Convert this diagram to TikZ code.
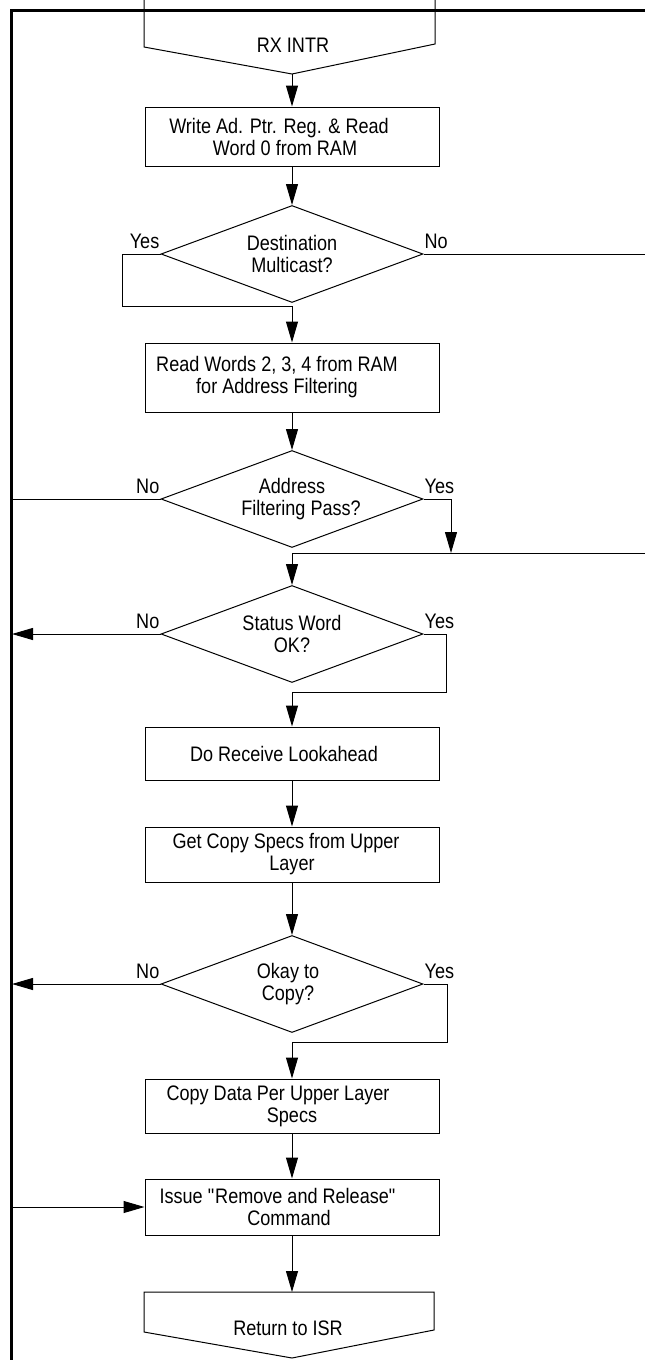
\documentclass[tikz,border=0pt]{standalone}
\usepackage{fontspec}
\setmainfont{Liberation Sans}[FakeStretch=0.86]
\usetikzlibrary{shapes.geometric,arrows.meta}

\tikzset{
  line/.style={draw, line width=1pt},
  arr/.style={line, -{Triangle[length=21pt,width=12pt]}},
  frame/.style={draw, line width=3pt},
  txt/.style={font=\fontsize{21}{22}\selectfont, align=center, inner sep=0pt},
  flowbox/.style={txt, draw, line width=1pt, rectangle, minimum width=294pt},
  decision/.style={txt, draw, line width=1pt, diamond, aspect=2.7,
    minimum width=262pt, minimum height=97pt},
  lbl/.style={font=\fontsize{21}{22}\selectfont, inner sep=1pt, yshift=4pt}
}

\begin{document}
\begin{tikzpicture}[x=1pt,y=-1pt]
\useasboundingbox (0,0) rectangle (645,1360);

% Frame
\draw[frame] (645,10) -- (11,10) -- (11,1360);

% Entry
\draw[line] (144,0) -- (144,47) -- (292,74) -- (435,44) -- (435,0);
\node[txt] (rx) at (293,45) {RX INTR};
\coordinate (rxtip) at (292,74);

% Steps
\node[flowbox, minimum height=59pt] (wrptr) at (292,136.5) {Write Ad. Ptr. Reg. \& Read\hspace*{26pt}\\Word 0 from RAM\hspace*{14pt}};
\node[decision] (mcast) at (292,254) {Destination\\Multicast?};
\node[flowbox, minimum height=69pt] (rdwords) at (292,377.5) {Read Words 2, 3, 4 from RAM\hspace*{30pt}\\for Address Filtering\hspace*{30pt}};
\node[decision] (filter) at (292,499) {Address\\\hspace*{18pt}Filtering Pass?};
\node[decision] (status) at (292,634) {Status Word\\OK?};
\node[flowbox, minimum height=53pt] (lookahead) at (292,753.5) {\raisebox{-4pt}{Do Receive Lookahead\hspace*{16pt}}};
\node[flowbox, minimum height=55pt] (specs) at (292,854.5) {Get Copy Specs from Upper\hspace*{12pt}\\Layer};
\node[decision] (okcopy) at (292,984) {Okay to\hspace*{8pt}\\Copy?\hspace*{8pt}};
\node[flowbox, minimum height=54pt] (copydata) at (292,1106) {Copy Data Per Upper Layer\hspace*{28pt}\\Specs};
\node[flowbox, minimum height=56pt] (release) at (292,1207) {Issue \textquotedbl Remove and Release\textquotedbl\hspace*{28pt}\\Command\hspace*{6pt}};

% Exit
\draw[line] (144,1292) -- (144,1332) -- (292,1358) -- (434,1330) -- (434,1292) -- cycle;
\node[txt] (isr) at (288,1328) {Return to ISR};
\coordinate (isrtop) at (292,1292);

% Bends and edges
\coordinate (mcyes) at (122,306);
\coordinate (mcno) at (645,254);
\coordinate (busfilt) at (11,499);
\coordinate (fyes) at (451,553);
\coordinate (join) at (645,553);
\coordinate (busst) at (12,634);
\coordinate (styes) at (446,692);
\coordinate (busok) at (12,984);
\coordinate (okyes) at (447,1042);
\coordinate (busrel) at (12,1207);

% Connectors
\draw[arr] (rxtip) -- (wrptr.north);
\draw[arr] (wrptr.south) -- (mcast.north);
\draw[arr] (mcast.west) -| (mcyes) -| (rdwords.north);
\draw[line] (mcast.east) -- (mcno);
\draw[arr] (rdwords.south) -- (filter.north);
\draw[line] (filter.west) -- (busfilt);
\draw[arr] (filter.east) -| (fyes);
\draw[arr] (join) -| (status.north);
\draw[arr] (status.west) -- (busst);
\draw[arr] (status.east) -| (styes) -| (lookahead.north);
\draw[arr] (lookahead.south) -- (specs.north);
\draw[arr] (specs.south) -- (okcopy.north);
\draw[arr] (okcopy.west) -- (busok);
\draw[arr] (okcopy.east) -| (okyes) -| (copydata.north);
\draw[arr] (copydata.south) -- (release.north);
\draw[arr] (busrel) -- (release.west);
\draw[arr] (release.south) -- (isrtop);

% Labels
\node[lbl, anchor=south east] (mcyeslbl) at (mcast.west) {Yes};
\node[lbl, anchor=south west] (mcnolbl) at (mcast.east) {No};
\node[lbl, anchor=south east] (fnolbl) at (filter.west) {No};
\node[lbl, anchor=south west] (fyeslbl) at (filter.east) {Yes};
\node[lbl, anchor=south east] (stnolbl) at (status.west) {No};
\node[lbl, anchor=south west] (styeslbl) at (status.east) {Yes};
\node[lbl, anchor=south east] (oknolbl) at (okcopy.west) {No};
\node[lbl, anchor=south west] (okyeslbl) at (okcopy.east) {Yes};
\end{tikzpicture}
\end{document}
